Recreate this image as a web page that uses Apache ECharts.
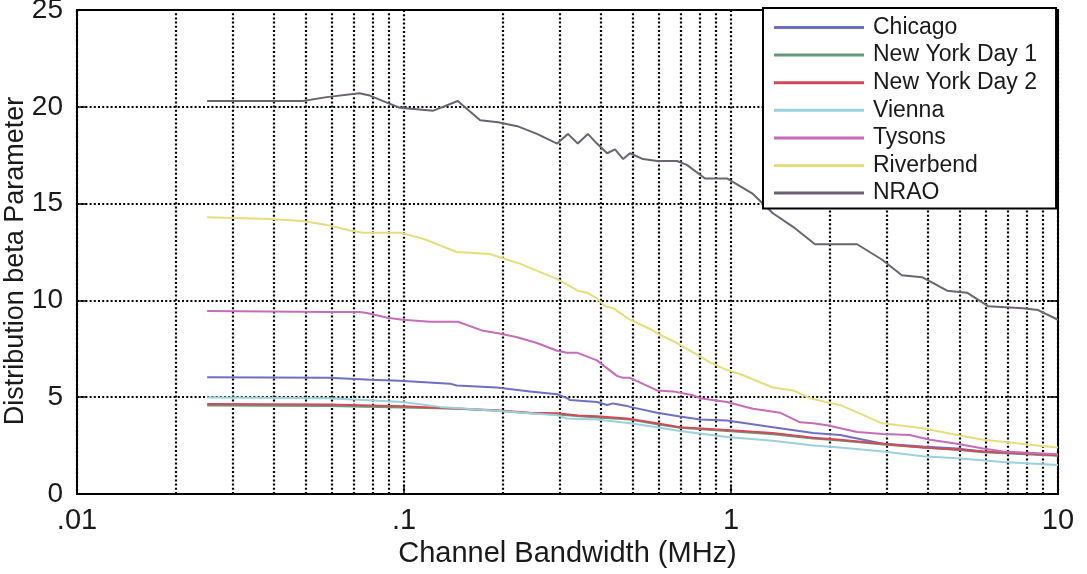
<!DOCTYPE html>
<html>
<head>
<meta charset="utf-8">
<script src="https://cdn.jsdelivr.net/npm/echarts@6/dist/echarts.min.js"></script>
<style>
html,body{margin:0;padding:0;background:#fff;}
#c{width:1087px;height:574px;}
</style>
</head>
<body>
<div id="c"></div>
<script>
// ---- data ----
const seriesNames = ['Chicago', 'New York Day 1', 'New York Day 2', 'Vienna', 'Tysons', 'Riverbend', 'NRAO'];

const chicagoX = [0.025, 0.059, 0.079, 0.097, 0.138, 0.145, 0.192, 0.243, 0.294, 0.315, 0.322, 0.389, 0.418, 0.436, 0.481, 0.491, 0.594, 0.698, 0.805, 0.972, 1.343, 1.783, 2.155, 2.92, 3.86, 4.91, 5.9, 10];
const chicagoY = [6.03, 6.0, 5.9, 5.85, 5.7, 5.6, 5.5, 5.3, 5.15, 4.95, 4.85, 4.75, 4.6, 4.68, 4.55, 4.5, 4.2, 4.0, 3.85, 3.8, 3.45, 3.15, 3.05, 2.6, 2.45, 2.35, 2.2, 2.0];

const nyDay1X = [0.025, 0.059, 0.099, 0.146, 0.192, 0.243, 0.294, 0.389, 0.491, 0.594, 0.698, 0.972, 1.343, 1.783, 2.155, 2.92, 3.86, 4.91, 5.9, 10];
const nyDay1Y = [4.57, 4.54, 4.47, 4.4, 4.3, 4.17, 4.1, 3.95, 3.85, 3.6, 3.42, 3.25, 3.08, 2.87, 2.76, 2.56, 2.4, 2.28, 2.15, 1.97];

const nyDay2X = [0.025, 0.059, 0.099, 0.192, 0.243, 0.294, 0.34, 0.389, 0.481, 0.594, 0.698, 0.972, 1.343, 1.783, 2.155, 2.92, 3.86, 4.91, 5.9, 10];
const nyDay2Y = [4.65, 4.62, 4.53, 4.33, 4.2, 4.17, 4.05, 4.02, 3.9, 3.65, 3.45, 3.3, 3.15, 2.9, 2.8, 2.6, 2.4, 2.3, 2.2, 2.0];

const viennaX = [0.025, 0.059, 0.099, 0.129, 0.192, 0.294, 0.315, 0.389, 0.491, 0.594, 0.698, 0.972, 1.343, 1.783, 2.155, 2.92, 3.86, 4.91, 6.79, 10];
const viennaY = [4.98, 4.95, 4.75, 4.5, 4.3, 4.07, 3.9, 3.85, 3.65, 3.45, 3.25, 2.95, 2.75, 2.5, 2.4, 2.2, 1.95, 1.85, 1.65, 1.5];

const tysonsX = [0.025, 0.059, 0.073, 0.077, 0.089, 0.099, 0.12, 0.146, 0.173, 0.194, 0.222, 0.255, 0.294, 0.315, 0.338, 0.389, 0.448, 0.468, 0.491, 0.594, 0.665, 0.765, 0.805, 0.972, 1.167, 1.288, 1.412, 1.626, 1.783, 1.966, 2.43, 2.92, 3.52, 4.06, 4.91, 5.9, 6.79, 10];
const tysonsY = [9.45, 9.4, 9.4, 9.35, 9.1, 9.0, 8.9, 8.9, 8.45, 8.3, 8.1, 7.8, 7.4, 7.3, 7.3, 6.9, 6.1, 6.0, 6.0, 5.35, 5.3, 5.1, 4.95, 4.75, 4.4, 4.3, 4.2, 3.7, 3.65, 3.55, 3.2, 3.1, 3.05, 2.8, 2.6, 2.35, 2.2, 2.05];

const riverbendX = [0.025, 0.039, 0.049, 0.058, 0.069, 0.075, 0.097, 0.114, 0.145, 0.183, 0.226, 0.294, 0.34, 0.363, 0.389, 0.412, 0.436, 0.491, 0.553, 0.577, 0.594, 0.684, 0.733, 0.788, 0.862, 0.972, 1.065, 1.343, 1.548, 1.745, 2.009, 2.155, 2.9, 3.86, 4.91, 5.9, 6.79, 8.63, 10];
const riverbendY = [14.3, 14.2, 14.1, 13.9, 13.6, 13.5, 13.5, 13.2, 12.5, 12.4, 11.9, 11.1, 10.5, 10.4, 10.1, 9.7, 9.6, 9.0, 8.6, 8.45, 8.3, 7.8, 7.5, 7.2, 6.8, 6.4, 6.2, 5.5, 5.35, 4.95, 4.7, 4.6, 3.65, 3.4, 3.05, 2.8, 2.7, 2.5, 2.4];

const nraoX = [0.025, 0.049, 0.058, 0.073, 0.078, 0.089, 0.097, 0.123, 0.146, 0.171, 0.194, 0.222, 0.255, 0.294, 0.317, 0.34, 0.365, 0.389, 0.418, 0.442, 0.468, 0.491, 0.538, 0.594, 0.684, 0.733, 0.833, 0.972, 1.167, 1.343, 1.548, 1.807, 2.43, 2.9, 3.33, 3.84, 4.58, 5.27, 6.11, 7.82, 8.69, 10];
const nraoY = [20.3, 20.3, 20.5, 20.7, 20.6, 20.2, 19.95, 19.8, 20.3, 19.3, 19.2, 19.0, 18.6, 18.1, 18.6, 18.1, 18.6, 18.1, 17.6, 17.8, 17.3, 17.6, 17.3, 17.2, 17.2, 17.0, 16.3, 16.3, 15.5, 14.5, 13.8, 12.9, 12.9, 12.1, 11.3, 11.2, 10.5, 10.4, 9.7, 9.6, 9.5, 9.0];

const xTickValues = [0.01, 0.1, 1, 10];
const xTickLabels = ['.01', '.1', '1', '10'];
const minorGridValues = [0.02, 0.03, 0.04, 0.05, 0.06, 0.07, 0.08, 0.09, 0.2, 0.3, 0.4, 0.5, 0.6, 0.7, 0.8, 0.9, 2, 3, 4, 5, 6, 7, 8, 9];

// ---- chart ----
const colors = ['#6f70c2', '#679a78', '#d24a58', '#9bd0dd', '#c46db8', '#e6de7c', '#6a6470'];
const xs = [chicagoX, nyDay1X, nyDay2X, viennaX, tysonsX, riverbendX, nraoX];
const ys = [chicagoY, nyDay1Y, nyDay2Y, viennaY, tysonsY, riverbendY, nraoY];
const FONT = 'Liberation Sans, Arial, Helvetica, sans-serif';
const TXT = '#1a1a1a';
const dotted = { color: '#000', width: 2.2, type: [2, 2.2] };

const series = seriesNames.map((n, i) => ({
  name: n, type: 'line', symbol: 'none', z: 3,
  data: xs[i].map((x, k) => [x, ys[i][k]]),
  lineStyle: { color: colors[i], width: 2 },
  itemStyle: { color: colors[i] }
}));
series.unshift({
  name: 'grid', type: 'line', data: [], silent: true, z: 1,
  markLine: {
    silent: true, symbol: 'none', animation: false, z: 1,
    label: { show: false },
    lineStyle: dotted,
    emphasis: { disabled: true },
    data: minorGridValues.map(v => ({ xAxis: v }))
  }
});

const yCommon = { type: 'value', min: 0, max: 25, interval: 5 };

const chart = echarts.init(document.getElementById('c'), null, { renderer: 'canvas' });
chart.setOption({
  animation: false,
  backgroundColor: '#fff',
  textStyle: { fontFamily: FONT },
  grid: { left: 77, right: 29, top: 10, bottom: 80, containLabel: false, outerBoundsMode: 'none',
    show: true, borderColor: '#000', borderWidth: 2, backgroundColor: 'transparent' },
  xAxis: {
    type: 'log', logBase: 10, min: 0.01, max: 10,
    name: 'Channel Bandwidth (MHz)', nameLocation: 'middle', nameGap: 45, nameMoveOverlap: false,
    nameTextStyle: { fontSize: 29, color: TXT, fontFamily: FONT },
    axisLine: { lineStyle: { color: '#000', width: 2 } },
    axisTick: { show: true, inside: true, length: 8, lineStyle: { color: '#000', width: 1.5 } },
    axisLabel: { fontSize: 29, color: TXT, margin: 12, fontFamily: FONT,
      formatter: v => { const i = xTickValues.findIndex(t => Math.abs(t - v) / t < 1e-6); return i >= 0 ? xTickLabels[i] : ''; } },
    splitLine: { show: true, lineStyle: dotted },
    minorTick: { show: false }
  },
  yAxis: [Object.assign({}, yCommon, {
    name: 'Distribution beta Parameter', nameLocation: 'middle', nameGap: 48, nameMoveOverlap: false,
    nameTextStyle: { fontSize: 27, color: TXT, fontFamily: FONT, padding: [0, 18, 0, 0] },
    axisLine: { show: true, lineStyle: { color: '#000', width: 2 } },
    axisTick: { show: true, inside: true, length: 10, lineStyle: { color: '#000', width: 1.5 } },
    axisLabel: { fontSize: 28, color: TXT, margin: 14, fontFamily: FONT },
    splitLine: { show: true, lineStyle: dotted }
  }), Object.assign({}, yCommon, {
    position: 'right',
    axisLine: { show: true, lineStyle: { color: '#000', width: 2 } },
    axisTick: { show: true, inside: true, length: 10, lineStyle: { color: '#000', width: 1.5 } },
    axisLabel: { show: false },
    splitLine: { show: false }
  })],
  legend: {
    data: seriesNames,
    orient: 'vertical', left: 763, top: 8, z: 10,
    backgroundColor: '#fff', borderColor: '#000', borderWidth: 2,
    padding: [8, 19, 4, 11],
    itemWidth: 90, itemHeight: 14, itemGap: 4.6,
    textStyle: { fontSize: 23, color: TXT, lineHeight: 21, padding: [0, 0, 0, 4], fontFamily: FONT },
    icon: 'path://M0,5.5 L90,5.5 L90,8.5 L0,8.5 Z'
  },
  series: series
});
</script>
</body>
</html>
